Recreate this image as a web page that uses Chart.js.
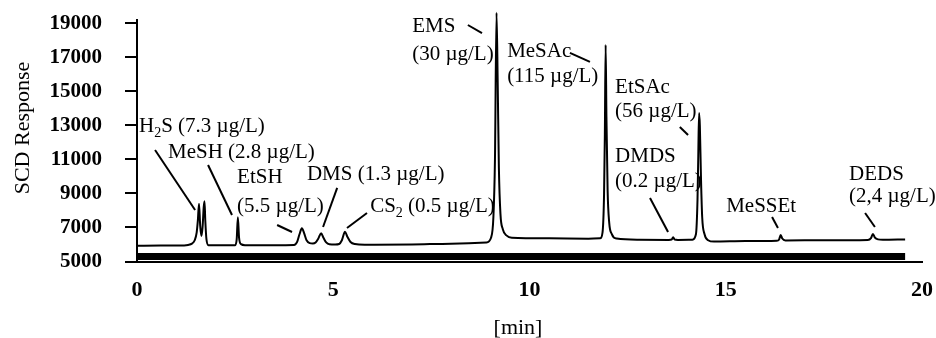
<!DOCTYPE html>
<html><head><meta charset="utf-8">
<script src="https://cdn.jsdelivr.net/npm/chart.js@4.4.1/dist/chart.umd.min.js"></script>
<style>html,body{margin:0;padding:0;background:#fff}#wrap{width:936px;height:338px}</style>
</head><body><div id="wrap"><canvas id="c" width="936" height="338"></canvas></div>
<script>
// Chromatogram (retention time in min, SCD response)
const retentionTime = [
  0, 0.6, 1.2, 1.30, 1.40, 1.47, 1.52, 1.55, 1.58, 1.61, 1.64, 1.67, 1.70, 1.72, 1.74, 1.77, 1.82, 2.2,
  2.50, 2.54, 2.57, 2.60, 2.65, 2.75, 3.5, 4.00, 4.08, 4.14, 4.20, 4.26, 4.32, 4.40, 4.48,
  4.55, 4.62, 4.69, 4.75, 4.82, 4.90, 5.05, 5.15, 5.22, 5.30, 5.36, 5.44, 5.55, 5.8, 7.0, 8.0, 8.9,
  9.02, 9.08, 9.12, 9.16, 9.19, 9.22, 9.26, 9.32, 9.42, 9.55, 10.5, 11.5,
  11.80, 11.86, 11.90, 11.92, 11.94, 11.96, 11.99, 12.03, 12.10, 12.22, 12.8,
  13.55, 13.62, 13.66, 13.70, 13.78,
  14.15, 14.24, 14.28, 14.30, 14.32, 14.34, 14.37, 14.40, 14.46, 14.55, 14.7, 15.5,
  16.30, 16.36, 16.40, 16.44, 16.52, 17.5,
  18.62, 18.70, 18.75, 18.80, 18.88, 19.0, 19.57
];
const response = [
  5930, 5935, 5945, 5970, 6050, 6250, 6700, 7400, 8400, 7100, 6500, 7000, 8200, 8550, 7400, 6300, 5960, 5955,
  5960, 6300, 7600, 6400, 6020, 5960, 5960, 5970, 6150, 6600, 6950, 6650, 6250, 6080, 6060,
  6120, 6350, 6660, 6400, 6120, 6010, 6000, 6030, 6250, 6750, 6450, 6150, 6030, 5990, 6000, 6050, 6120,
  6400, 7600, 11000, 19630, 15500, 10500, 7800, 6900, 6520, 6400, 6360, 6340,
  6360, 6700, 9000, 12500, 17735, 13500, 9200, 7300, 6600, 6350, 6280,
  6270, 6290, 6420, 6290, 6270,
  6280, 6600, 8600, 11200, 13735, 13000, 9800, 7600, 6600, 6250, 6170, 6200,
  6220, 6300, 6560, 6350, 6240, 6250,
  6270, 6380, 6620, 6400, 6300, 6280, 6300
];
const xTickValues = [0, 5, 10, 15, 20];
const yTickValues = [5000, 7000, 9000, 11000, 13000, 15000, 17000, 19000];
const xAxisTitle = '[min]';
const yAxisTitle = 'SCD Response';
// thick bar along the bottom of the trace
const barTime = [0, 19.57];
const barLevel = [5300, 5300];

// Peak labels: text parts [text, isSubscript], anchored (left, middle) in data units
const peakLabels = [
  {parts: [['H',0],['2',1],['S (7.3 µg/L)',0]], x: 0.05, y: 12912},
  {parts: [['MeSH (2.8 µg/L)',0]], x: 0.79, y: 11382},
  {parts: [['EtSH',0]], x: 2.55, y: 9912},
  {parts: [['(5.5 µg/L)',0]], x: 2.55, y: 8206},
  {parts: [['DMS (1.3 µg/L)',0]], x: 4.33, y: 10088},
  {parts: [['CS',0],['2',1],[' (0.5 µg/L)',0]], x: 5.94, y: 8206},
  {parts: [['EMS',0]], x: 7.01, y: 18794},
  {parts: [['(30 µg/L)',0]], x: 7.01, y: 17147},
  {parts: [['MeSAc',0]], x: 9.43, y: 17324},
  {parts: [['(115 µg/L)',0]], x: 9.43, y: 15853},
  {parts: [['EtSAc',0]], x: 12.18, y: 15206},
  {parts: [['(56 µg/L)',0]], x: 12.18, y: 13794},
  {parts: [['DMDS',0]], x: 12.18, y: 11147},
  {parts: [['(0.2 µg/L)',0]], x: 12.18, y: 9676},
  {parts: [['MeSSEt',0]], x: 15.01, y: 8206},
  {parts: [['DEDS',0]], x: 18.14, y: 10088},
  {parts: [['(2,4 µg/L)',0]], x: 18.14, y: 8794}
];
// Leader lines [x1, y1, x2, y2] in data units
const leaderLines = [
  [0.46, 11553, 1.48, 8029],
  [1.81, 10676, 2.42, 7735],
  [3.57, 7147, 3.95, 6735],
  [5.10, 9324, 4.74, 7029],
  [5.86, 7853, 5.35, 6970],
  [8.43, 18906, 8.79, 18435],
  [11.03, 17265, 11.54, 16735],
  [13.83, 12912, 14.04, 12441],
  [13.07, 8735, 13.53, 6735],
  [16.18, 7618, 16.33, 6971],
  [18.55, 7853, 18.80, 7029]
];

const SERIF = "'Liberation Serif', 'Times New Roman', serif";

const annotPlugin = {
  id: 'annot',
  afterDatasetsDraw(chart) {
    const ctx = chart.ctx, xs = chart.scales.x, ys = chart.scales.y;
    ctx.save();
    ctx.fillStyle = '#000';
    ctx.strokeStyle = '#000';
    ctx.lineWidth = 2;
    leaderLines.forEach(l => {
      ctx.beginPath();
      ctx.moveTo(xs.getPixelForValue(l[0]), ys.getPixelForValue(l[1]));
      ctx.lineTo(xs.getPixelForValue(l[2]), ys.getPixelForValue(l[3]));
      ctx.stroke();
    });
    ctx.textBaseline = 'middle';
    ctx.textAlign = 'left';
    peakLabels.forEach(lb => {
      let px = xs.getPixelForValue(lb.x);
      const py = ys.getPixelForValue(lb.y);
      lb.parts.forEach(p => {
        if (p[1]) {
          ctx.font = '14px ' + SERIF;
          ctx.fillText(p[0], px, py + 6);
        } else {
          ctx.font = '21px ' + SERIF;
          ctx.fillText(p[0], px, py);
        }
        px += ctx.measureText(p[0]).width;
      });
    });
    // axis titles
    ctx.font = '22px ' + SERIF;
    ctx.textAlign = 'center';
    ctx.fillText(xAxisTitle, 518, 328);
    ctx.save();
    ctx.translate(23, 128);
    ctx.rotate(-Math.PI / 2);
    ctx.fillText(yAxisTitle, 0, 0);
    ctx.restore();
    ctx.restore();
  }
};

new Chart(document.getElementById('c'), {
  type: 'line',
  data: {
    datasets: [
      {
        data: retentionTime.map((t, i) => ({x: t, y: response[i]})),
        borderColor: '#000', borderWidth: 2, pointRadius: 0,
        cubicInterpolationMode: 'monotone', clip: false, fill: false
      },
      {
        data: barTime.map((t, i) => ({x: t, y: barLevel[i]})),
        borderColor: '#000', borderWidth: 7, pointRadius: 0,
        borderCapStyle: 'butt', fill: false
      }
    ]
  },
  options: {
    responsive: false, animation: false,
    layout: {padding: {left: 0, top: 20, right: 14, bottom: 0}},
    plugins: {legend: {display: false}, tooltip: {enabled: false}},
    scales: {
      x: {
        type: 'linear', min: 0, max: 20,
        afterBuildTicks: s => { s.ticks = xTickValues.map(v => ({value: v})); },
        afterFit: s => { s.height = 76.5; s.paddingLeft = 0; s.paddingRight = 0; },
        grid: {display: false, drawTicks: false},
        border: {display: true, color: '#000', width: 2},
        ticks: {color: '#000', padding: 16, font: {family: SERIF, size: 22, weight: 'bold'}, callback: v => String(v)}
      },
      y: {
        type: 'linear', min: 5000, max: 19200,
        afterBuildTicks: s => { s.ticks = yTickValues.map(v => ({value: v})); },
        afterFit: s => { s.width = 137; s.paddingTop = 0; s.paddingBottom = 0; },
        grid: {drawOnChartArea: false, drawTicks: true, tickLength: 12, color: '#000', lineWidth: 2},
        border: {display: true, color: '#000', width: 2},
        ticks: {color: '#000', padding: 23, font: {family: SERIF, size: 21, weight: 'bold'}, callback: v => String(v)}
      }
    }
  },
  plugins: [annotPlugin]
});
</script></body></html>
